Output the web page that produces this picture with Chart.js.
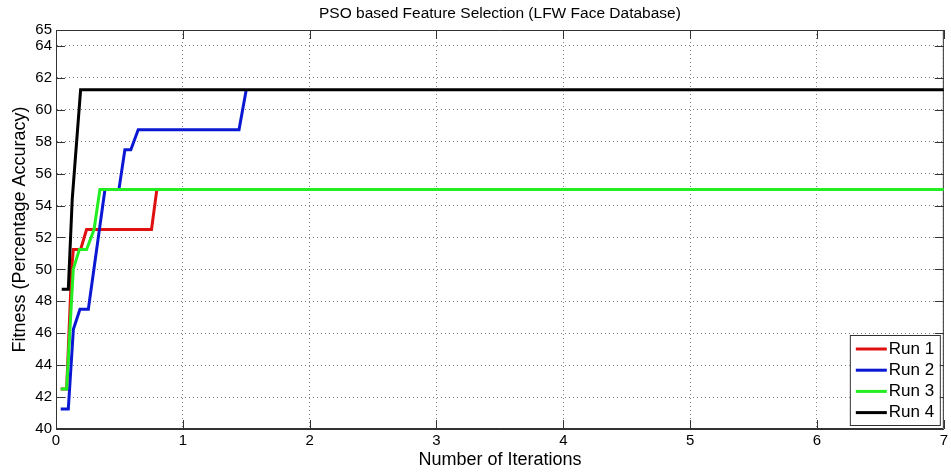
<!DOCTYPE html>
<html>
<head>
<meta charset="utf-8">
<script src="https://cdn.jsdelivr.net/npm/chart.js@4.4.0/dist/chart.umd.min.js"></script>
<style>
html, body { margin: 0; padding: 0; background: #fff; }
</style>
</head>
<body>
<canvas id="myChart" width="951" height="472"></canvas>
<script>
// values (x = iterations, y = accuracy %)
const run1X = [0.037, 0.084, 0.123, 0.137, 0.194, 0.241, 0.753, 0.795];
const run1Y = [42.5, 42.5, 50, 51.25, 51.25, 52.5, 52.5, 55];
const run2X = [0.037, 0.097, 0.137, 0.189, 0.255, 0.386, 0.496, 0.543, 0.59, 0.648, 1.443, 1.5];
const run2Y = [41.25, 41.25, 46.25, 47.5, 47.5, 55, 55, 57.5, 57.5, 58.75, 58.75, 61.25];
const run3X = [0.037, 0.084, 0.136, 0.184, 0.241, 0.30, 0.346, 7];
const run3Y = [42.5, 42.5, 50, 51.25, 51.25, 52.5, 55, 55];
const run4X = [0.045, 0.097, 0.128, 0.194, 7];
const run4Y = [48.75, 48.75, 54.4, 61.25, 61.25];

const runNames = ['Run 1', 'Run 2', 'Run 3', 'Run 4'];
const runColors = ['#e01010', '#0a18d4', '#22ee22', '#000000'];
const xTicks = [0, 1, 2, 3, 4, 5, 6, 7];
const yTicks = [40, 42, 44, 46, 48, 50, 52, 54, 56, 58, 60, 62, 64, 65];

Chart.defaults.font.family = "'Liberation Sans', Arial, sans-serif";
Chart.defaults.color = '#000';

function pairs(xs, ys) {
    return xs.map((x, i) => ({ x: x, y: ys[i] }));
}

const allX = [run1X, run2X, run3X, run4X];
const allY = [run1Y, run2Y, run3Y, run4Y];

// matlab style box + inward tick marks
const framePlugin = {
    id: 'frame',
    beforeDatasetsDraw(chart) {
        const { ctx, chartArea: a, scales } = chart;
        ctx.save();
        ctx.strokeStyle = '#333';
        ctx.lineWidth = 1;
        ctx.beginPath();
        ctx.rect(a.left + 0.5, a.top + 0.5, a.right - a.left - 1, a.bottom - a.top - 1);
        const len = 9;
        xTicks.forEach(v => {
            const px = Math.round(scales.x.getPixelForValue(v)) + 0.5;
            ctx.moveTo(px, a.bottom);
            ctx.lineTo(px, a.bottom - len);
            ctx.moveTo(px, a.top);
            ctx.lineTo(px, a.top + len);
        });
        yTicks.forEach(v => {
            const py = Math.round(scales.y.getPixelForValue(v)) + 0.5;
            ctx.moveTo(a.left, py);
            ctx.lineTo(a.left + len, py);
            ctx.moveTo(a.right, py);
            ctx.lineTo(a.right - len, py);
        });
        ctx.stroke();
        ctx.restore();
    }
};

const legendPlugin = {
    id: 'boxLegend',
    afterDatasetsDraw(chart) {
        const { ctx, chartArea: a } = chart;
        const w = 90, h = 90;
        const left = a.right - 4 - w;
        const top = a.bottom - 4 - h;
        ctx.save();
        ctx.fillStyle = '#fff';
        ctx.fillRect(left, top, w, h);
        ctx.strokeStyle = '#333';
        ctx.lineWidth = 1;
        ctx.strokeRect(left + 0.5, top + 0.5, w, h);
        ctx.font = "17px 'Liberation Sans', Arial, sans-serif";
        ctx.textBaseline = 'middle';
        ctx.textAlign = 'left';
        chart.data.datasets.forEach((ds, i) => {
            const y = top + 14 + i * 21.2;
            ctx.strokeStyle = ds.borderColor;
            ctx.lineWidth = 3;
            ctx.beginPath();
            ctx.moveTo(left + 6, y);
            ctx.lineTo(left + 37, y);
            ctx.stroke();
            ctx.fillStyle = '#000';
            ctx.fillText(ds.label, left + 39, y);
        });
        ctx.restore();
    }
};

const config = {
    type: 'line',
    data: {
        datasets: runNames.map((name, i) => ({
            label: name,
            data: pairs(allX[i], allY[i]),
            borderColor: runColors[i],
            backgroundColor: 'transparent',
            borderWidth: 3,
            pointRadius: 0,
            tension: 0,
            fill: false,
            order: 4 - i
        }))
    },
    options: {
        responsive: false,
        animation: false,
        layout: { padding: { left: 0, right: 6, top: 0, bottom: 0 } },
        plugins: {
            legend: { display: false },
            tooltip: { enabled: false },
            title: {
                display: true,
                text: 'PSO based Feature Selection (LFW Face Database)',
                fullSize: false,
                font: { size: 15.5, weight: 'normal' },
                padding: { top: 4, bottom: 7.4 }
            }
        },
        scales: {
            x: {
                type: 'linear',
                min: 0,
                max: 7,
                afterBuildTicks: (scale) => { scale.ticks = xTicks.map(v => ({ value: v })); },
                afterFit: (scale) => { scale.height = 43; },
                ticks: { font: { size: 15 }, padding: 3, maxRotation: 0 },
                grid: { color: 'rgba(0,0,0,0.5)', drawTicks: false },
                border: { display: true, color: '#333', dash: [1, 3] },
                title: {
                    display: true,
                    text: 'Number of Iterations',
                    font: { size: 18 },
                    padding: { top: 0, bottom: 1 }
                }
            },
            y: {
                min: 40,
                max: 65,
                afterBuildTicks: (scale) => { scale.ticks = yTicks.map(v => ({ value: v })); },
                afterFit: (scale) => { scale.width = 56; },
                ticks: { font: { size: 15 }, padding: 4 },
                grid: { color: 'rgba(0,0,0,0.5)', drawTicks: false },
                border: { display: true, color: '#333', dash: [1, 3] },
                title: {
                    display: true,
                    text: 'Fitness (Percentage Accuracy)',
                    font: { size: 18 },
                    padding: { top: 9, bottom: 0 }
                }
            }
        }
    },
    plugins: [framePlugin, legendPlugin]
};

window.chart = new Chart(document.querySelector('#myChart').getContext('2d'), config);
</script>
</body>
</html>
